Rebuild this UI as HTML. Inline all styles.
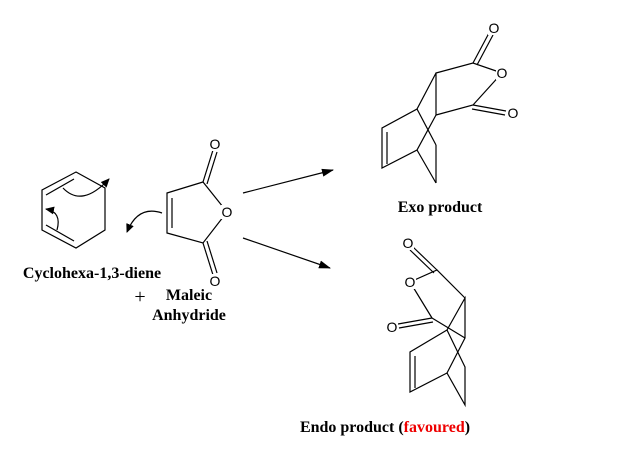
<!DOCTYPE html>
<html><head><style>
body{margin:0;background:#fff;width:629px;height:450px;overflow:hidden}
svg{position:absolute;left:0;top:0}
text{font-family:"Liberation Serif",serif}
.b{font-weight:bold;font-size:16px}
.o{font-family:"Liberation Sans",sans-serif;font-size:14px;text-anchor:middle}
</style></head><body>
<svg width="629" height="450" viewBox="0 0 629 450">
<defs>
<marker id="ah" markerWidth="12" markerHeight="8" refX="11" refY="4" orient="auto" markerUnits="userSpaceOnUse"><path d="M0,0 L12,4 L0,8 Z" fill="#000"/></marker>
<marker id="ch" markerWidth="9" markerHeight="8" refX="8" refY="4" orient="auto" markerUnits="userSpaceOnUse"><path d="M0,0 L9,4 L0,8 Z" fill="#000"/></marker>
</defs>
<g stroke="#000" stroke-width="1.2" fill="none">
<path d="M76,172 L105,188 L105,230 L76,248 L42,230 L42,190 Z"/>
<line x1="46" y1="195" x2="74" y2="179"/>
<line x1="46" y1="225" x2="74" y2="241"/>
<path d="M63,188 Q82,208 109,179" marker-end="url(#ch)"/>
<path d="M57,230 Q62,212 46,209" marker-end="url(#ch)"/>
<path d="M162,213 Q138,205 127,232" marker-end="url(#ch)"/>
<path d="M167,193 L203,182 L227,212 L203,243 L167,233 Z"/>
<line x1="172" y1="198" x2="172" y2="228"/>
<line x1="203" y1="182" x2="213" y2="150"/><line x1="207" y1="184" x2="217" y2="152"/>
<line x1="203" y1="243" x2="213" y2="275"/><line x1="207" y1="241" x2="217" y2="273"/>
<line x1="243" y1="193" x2="333" y2="170" marker-end="url(#ah)"/>
<line x1="243" y1="238" x2="330" y2="268" marker-end="url(#ah)"/>
<path d="M436,73 L417,109 L382,128 L382,168 L417,150 L436,115 L436,73 L473,63 L502,73"/>
<line x1="387" y1="132" x2="387" y2="164"/>
<line x1="417" y1="109" x2="436" y2="145"/><line x1="436" y1="145" x2="436" y2="183"/><line x1="417" y1="150" x2="436" y2="183"/>
<line x1="473" y1="63" x2="489" y2="33"/><line x1="477" y1="65" x2="493" y2="35"/>
<path d="M502,73 L473,105 L436,115"/>
<line x1="473" y1="105" x2="506" y2="111"/><line x1="472" y1="109" x2="505" y2="115"/>
<path d="M447,330 L410,352 L410,392 L447,373 L465,405 L465,367 L447,330"/>
<line x1="415" y1="356" x2="415" y2="388"/>
<path d="M447,373 L465,338 L465,298 L447,330"/>
<path d="M432,318 L465,338"/>
<path d="M465,298 L437,270 L410,282 L432,318"/>
<line x1="437" y1="270" x2="413" y2="247"/><line x1="434" y1="273" x2="410" y2="250"/>
<line x1="432" y1="318" x2="398" y2="324"/><line x1="433" y1="322" x2="399" y2="328"/>
</g>
<g fill="#fff">
<rect x="209" y="137" width="12" height="14"/>
<rect x="221" y="205" width="12" height="14"/>
<rect x="209" y="274" width="12" height="14"/>
<rect x="488" y="21" width="12" height="14"/>
<rect x="496" y="66" width="12" height="14"/>
<rect x="507" y="106" width="12" height="14"/>
<rect x="402" y="236" width="12" height="14"/>
<rect x="404" y="275" width="12" height="14"/>
<rect x="386" y="320" width="12" height="14"/>
</g>
<text class="o" x="215" y="149">O</text>
<text class="o" x="227" y="217">O</text>
<text class="o" x="215" y="286">O</text>
<text class="o" x="494" y="33">O</text>
<text class="o" x="502" y="78">O</text>
<text class="o" x="513" y="118">O</text>
<text class="o" x="408" y="248">O</text>
<text class="o" x="410" y="287">O</text>
<text class="o" x="392" y="332">O</text>
<text class="b" x="92" y="278" text-anchor="middle">Cyclohexa-1,3-diene</text>
<text x="140" y="303" text-anchor="middle" font-size="20">+</text>
<text class="b" x="189" y="300" text-anchor="middle">Maleic</text>
<text class="b" x="189" y="320" text-anchor="middle">Anhydride</text>
<text class="b" x="440" y="212" text-anchor="middle">Exo product</text>
<text class="b" x="385" y="432" text-anchor="middle">Endo product (<tspan fill="#e00">favoured</tspan>)</text>
</svg>
</body></html>
